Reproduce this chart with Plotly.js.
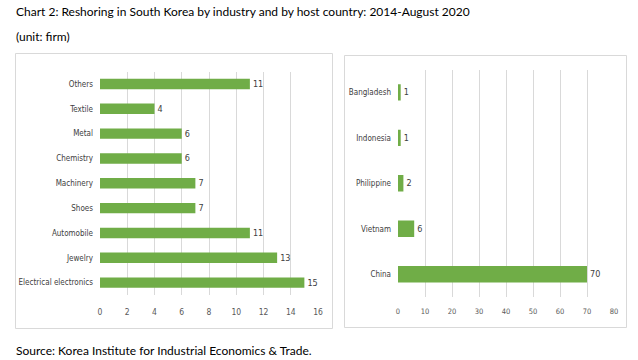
<!DOCTYPE html>
<html><head><meta charset="utf-8">
<script src="https://cdn.plot.ly/plotly-3.0.1.min.js"></script>
<style>html,body{margin:0;padding:0;background:#fff}#chart{width:638px;height:360px}</style>
</head><body><div id="chart"></div>
<script>
const industries = ["Electrical electronics","Jewelry","Automobile","Shoes","Machinery","Chemistry","Metal","Textile","Others"];
const industryFirms = [15,13,11,7,7,6,6,4,11];
const countries = ["China","Vietnam","Philippine","Indonesia","Bangladesh"];
const countryFirms = [70,6,2,1,1];
const leftTicks = [0,2,4,6,8,10,12,14,16];
const rightTicks = [0,10,20,30,40,50,60,70,80];

const green = "#70ad47";
const cond = "DejaVu Sans Condensed, sans-serif";
const catFont = {family:cond, size:8, color:"#404040"};
const labFont = {family:cond, size:9, color:"#404040"};
const tickFont = {family:cond, size:8.5, color:"#595959"};
const txtFont = {family:"Lato, Open Sans, sans-serif", size:12, color:"#000"};

const traces = [
 {type:"bar", orientation:"h", y:industries, x:industryFirms, xaxis:"x", yaxis:"y",
  marker:{color:green}, width:0.42, text:industryFirms.map(String), textposition:"outside",
  textfont:labFont, cliponaxis:false, hoverinfo:"none"},
 {type:"bar", orientation:"h", y:countries, x:countryFirms, xaxis:"x2", yaxis:"y2",
  marker:{color:green}, width:0.36, text:countryFirms.map(String), textposition:"outside",
  textfont:labFont, cliponaxis:false, hoverinfo:"none"}
];
const W=638,H=360;
const px=(v)=>v/W, py=(v)=>1-v/H;
const layout = {
 width:W, height:H, margin:{l:0,r:0,t:0,b:0}, showlegend:false,
 paper_bgcolor:"#fff", plot_bgcolor:"rgba(0,0,0,0)",
 xaxis:{domain:[px(100),px(318)], range:[0,16], tickvals:leftTicks, showgrid:true, gridcolor:"#d9d9d9", gridwidth:1,
   zeroline:false, showline:false, tickfont:tickFont, ticks:"", ticklabelstandoff:10, fixedrange:true},
 yaxis:{domain:[py(295),py(71.6)], type:"category", categoryorder:"array", categoryarray:industries,
   range:[-0.5,8.5], showgrid:false, zeroline:false, showline:false, tickfont:catFont, ticks:"", ticklabelstandoff:6},
 xaxis2:{domain:[px(398),px(614)], anchor:"y2", range:[0,80], tickvals:rightTicks, showgrid:true, gridcolor:"#d9d9d9", gridwidth:1,
   zeroline:false, showline:false, tickfont:{...tickFont, size:7.5}, ticks:"", ticklabelstandoff:8},
 yaxis2:{domain:[py(297),py(69.6)], anchor:"x2", type:"category", categoryorder:"array", categoryarray:countries,
   range:[-0.5,4.5], showgrid:false, zeroline:false, showline:false, tickfont:catFont, ticks:"", ticklabelstandoff:6},
 shapes:[
  {type:"rect", xref:"paper", yref:"paper", x0:px(15.5), x1:px(332.5), y0:py(328.5), y1:py(53.5), line:{color:"#d9d9d9", width:1}},
  {type:"rect", xref:"paper", yref:"paper", x0:px(344.5), x1:px(626.5), y0:py(327.5), y1:py(55.5), line:{color:"#d9d9d9", width:1}}
 ],
 annotations:[
  {text:"Chart 2: Reshoring in South Korea by industry and by host country: 2014-August 2020", xref:"paper", yref:"paper",
   x:px(14), y:py(11), xanchor:"left", yanchor:"middle", showarrow:false, font:txtFont},
  {text:"(unit: firm)", xref:"paper", yref:"paper", x:px(14), y:py(37), xanchor:"left", yanchor:"middle", showarrow:false, font:txtFont},
  {text:"Source: Korea Institute for Industrial Economics &amp; Trade.", xref:"paper", yref:"paper", x:px(14), y:py(350),
   xanchor:"left", yanchor:"middle", showarrow:false, font:txtFont}
 ]
};
Plotly.newPlot("chart", traces, layout, {staticPlot:true, displayModeBar:false});
</script></body></html>
